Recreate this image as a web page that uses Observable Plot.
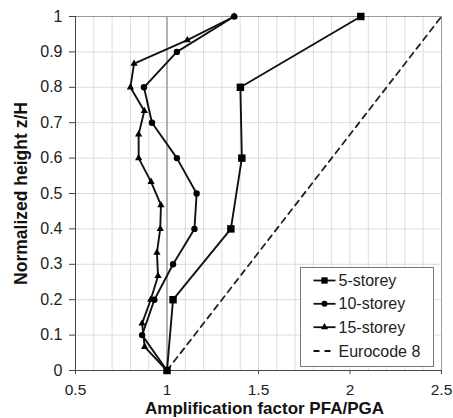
<!DOCTYPE html>
<html><head><meta charset="utf-8">
<script src="https://cdn.jsdelivr.net/npm/d3@7"></script>
<script src="https://cdn.jsdelivr.net/npm/@observablehq/plot@0.6"></script>
<style>
body{margin:0;background:#fff}
#chart svg{font-family:"Liberation Sans",Arial,sans-serif}
</style>
</head><body><div id="chart"></div>
<script>
// ---- data ----
const seriesNames = ["5-storey", "10-storey", "15-storey", "Eurocode 8"];
const heights5  = [0, 0.2, 0.4, 0.6, 0.8, 1.0];
const pfa5      = [1.0, 1.033, 1.349, 1.409, 1.401, 2.059];
const heights10 = [0, 0.1, 0.2, 0.3, 0.4, 0.5, 0.6, 0.7, 0.8, 0.9, 1.0];
const pfa10     = [1.0, 0.864, 0.931, 1.033, 1.150, 1.162, 1.054, 0.918, 0.874, 1.054, 1.367];
const heights15 = [0, 0.067, 0.133, 0.2, 0.267, 0.333, 0.4, 0.467, 0.533, 0.6, 0.667, 0.733, 0.8, 0.867, 0.933, 1.0];
const pfa15     = [1.0, 0.878, 0.864, 0.911, 0.951, 0.945, 0.963, 0.967, 0.913, 0.845, 0.845, 0.876, 0.800, 0.820, 1.111, 1.367];
const heightsEC = [0, 1];
const pfaEC     = [1.0, 2.5];
const xTicks = [0.5, 1, 1.5, 2, 2.5];
const yTicks = [0, 0.1, 0.2, 0.3, 0.4, 0.5, 0.6, 0.7, 0.8, 0.9, 1];
const xGrid  = [0.5,0.6,0.7,0.8,0.9,1,1.1,1.2,1.3,1.4,1.5,1.6,1.7,1.8,1.9,2,2.1,2.2,2.3,2.4,2.5];
const xTitle = "Amplification factor PFA/PGA";
const yTitle = "Normalized height z/H";

const toRows = (xs, ys) => xs.map((v, i) => ({x: v, y: ys[i]}));
const r5 = toRows(pfa5, heights5);
const r10 = toRows(pfa10, heights10);
const r15 = toRows(pfa15, heights15);
const rEC = toRows(pfaEC, heightsEC);

const lineOpts = {x: "x", y: "y", stroke: "#111", strokeWidth: 1.9};

const chart = Plot.plot({
  width: 453,
  height: 418,
  marginLeft: 75,
  marginRight: 12,
  marginTop: 16,
  marginBottom: 48,
  x: {domain: [0.5, 2.5]},
  y: {domain: [0, 1]},
  marks: [
    Plot.gridX(xGrid, {stroke: "#dcdcdc", strokeOpacity: 1}),
    Plot.gridY(yTicks, {stroke: "#dcdcdc", strokeOpacity: 1}),
    Plot.ruleX([1], {stroke: "#8a8a8a", strokeWidth: 1.2}),
    Plot.ruleY([1], {stroke: "#9a9a9a"}),
    Plot.ruleX([2.5], {stroke: "#9a9a9a"}),
    Plot.ruleX([0.5], {stroke: "#444"}),
    Plot.ruleY([0], {stroke: "#444"}),
    Plot.axisY(yTicks, {tickSize: 6, tickPadding: 7, fontSize: 16, label: null, tickFormat: d => String(d), stroke: "#444", fill: "#222"}),
    Plot.axisX(xTicks, {tickSize: 4, tickPadding: 9, fontSize: 15.5, label: null, tickFormat: d => String(d), stroke: "#444", fill: "#222"}),
    Plot.line(rEC, {x: "x", y: "y", stroke: "#222", strokeWidth: 1.8, strokeDasharray: "6,5"}),
    Plot.line(r15, lineOpts),
    Plot.line(r10, lineOpts),
    Plot.line(r5, lineOpts),
    Plot.dot(r15, {x: "x", y: "y", symbol: "triangle", r: 2.7, fill: "#000"}),
    Plot.dot(r10, {x: "x", y: "y", symbol: "circle", r: 3.2, fill: "#000"}),
    Plot.dot(r5, {x: "x", y: "y", symbol: "square", r: 4.2, fill: "#000"}),
    Plot.text([xTitle], {frameAnchor: "bottom", lineAnchor: "middle", textAnchor: "middle", dy: 38.5, dx: 6, fontWeight: "bold", fontSize: 17, fill: "#111"}),
    Plot.text([yTitle], {frameAnchor: "left", lineAnchor: "middle", textAnchor: "middle", dx: -54, rotate: -90, fontWeight: "bold", fontSize: 17.5, fill: "#111"})
  ]
});
document.getElementById("chart").appendChild(chart);

// ---- legend ----
const svg = d3.select(chart);
const lg = svg.append("g").attr("transform", "translate(300.5,267.5)");
lg.append("rect").attr("width", 133).attr("height", 99).attr("fill", "#fff").attr("stroke", "#777");
const symbols = [d3.symbolSquare, d3.symbolCircle, d3.symbolTriangle, null];
const sizes = [40, 28, 22, 0];
const rowY = [13, 36.3, 59.7, 83.5];
seriesNames.forEach((name, i) => {
  const g = lg.append("g").attr("transform", `translate(0,${rowY[i]})`);
  g.append("line").attr("x1", 13).attr("x2", 35).attr("stroke", "#111").attr("stroke-width", 1.8)
    .attr("stroke-dasharray", symbols[i] ? null : "6,5");
  if (symbols[i]) g.append("path").attr("d", d3.symbol(symbols[i], sizes[i])()).attr("transform", "translate(24,0)").attr("fill", "#000");
  g.append("text").attr("x", 38).attr("dy", "0.35em").attr("text-anchor", "start")
    .attr("font-size", 16).attr("fill", "#222").text(name);
});
</script>
</body></html>
